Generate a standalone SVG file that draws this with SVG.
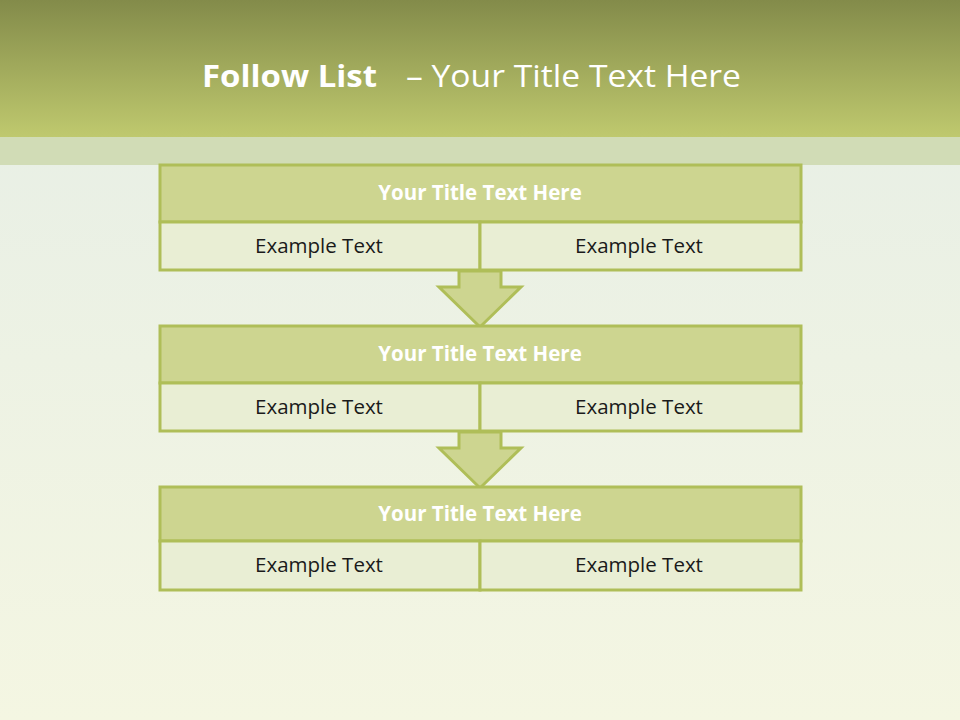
<svg xmlns="http://www.w3.org/2000/svg" width="960" height="720" viewBox="0 0 960 720">
<defs>
<linearGradient id="hdr" x1="0" y1="0" x2="0" y2="1">
<stop offset="0" stop-color="#838b4a"/>
<stop offset="1" stop-color="#bfc96e"/>
</linearGradient>
<linearGradient id="bg" x1="0" y1="0" x2="0" y2="1">
<stop offset="0" stop-color="#e6eee6"/>
<stop offset="1" stop-color="#f4f6e2"/>
</linearGradient>
<style>
.t{fill:#cdd590;stroke:#afbe58;stroke-width:3}
.e{fill:#e9eed4;stroke:#afbe58;stroke-width:3}
.ar{fill:#cdd590;stroke:#afbe58;stroke-width:3;stroke-linejoin:miter}
.tt{font-family:"Open Sans",sans-serif;font-weight:bold;font-size:20.5px;fill:#ffffff;text-anchor:middle}
.ex{font-family:"Open Sans",sans-serif;font-size:20.5px;fill:#1a1a1a;text-anchor:middle}
.hd{font-family:"Open Sans",sans-serif;font-size:31px;fill:#ffffff}
</style>
</defs>
<rect x="0" y="0" width="960" height="720" fill="url(#bg)"/>
<rect x="0" y="0" width="960" height="137" fill="url(#hdr)"/>
<rect x="0" y="137" width="960" height="28" fill="#d1dcb6"/>
<text class="hd" x="202" y="87" font-weight="bold" textLength="175" lengthAdjust="spacingAndGlyphs">Follow List</text>
<text class="hd" x="406" y="87" textLength="335" lengthAdjust="spacingAndGlyphs">– Your Title Text Here</text>
<g id="connectors">
<path class="ar" d="M459,271 L501,271 L501,287 L521,287 L480,327 L439,287 L459,287 Z"/>
<path class="ar" d="M459,432 L501,432 L501,448 L521,448 L480,488 L439,448 L459,448 Z"/>
</g>
<g id="box1">
<rect class="t" x="160" y="165" width="641" height="57"/>
<rect class="e" x="160" y="222" width="320" height="48"/>
<rect class="e" x="480" y="222" width="321" height="48"/>
<text class="tt" x="480" y="200">Your Title Text Here</text>
<text class="ex" x="319" y="253">Example Text</text>
<text class="ex" x="639" y="253">Example Text</text>
</g>
<g id="box2">
<rect class="t" x="160" y="326" width="641" height="57"/>
<rect class="e" x="160" y="383" width="320" height="48"/>
<rect class="e" x="480" y="383" width="321" height="48"/>
<text class="tt" x="480" y="361">Your Title Text Here</text>
<text class="ex" x="319" y="414">Example Text</text>
<text class="ex" x="639" y="414">Example Text</text>
</g>
<g id="box3">
<rect class="t" x="160" y="487" width="641" height="54"/>
<rect class="e" x="160" y="541" width="320" height="49"/>
<rect class="e" x="480" y="541" width="321" height="49"/>
<text class="tt" x="480" y="521">Your Title Text Here</text>
<text class="ex" x="319" y="572">Example Text</text>
<text class="ex" x="639" y="572">Example Text</text>
</g>
</svg>
